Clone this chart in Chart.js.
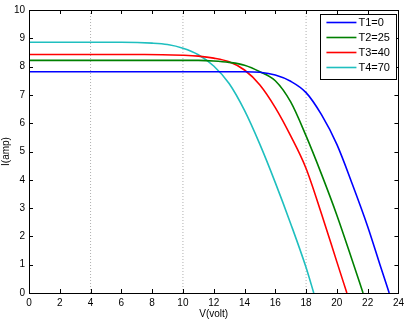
<!DOCTYPE html>
<html>
<head>
<meta charset="utf-8">
<script src="https://cdn.jsdelivr.net/npm/chart.js@4.4.1/dist/chart.umd.min.js"></script>
<style>
  html, body { margin: 0; padding: 0; background: #fff; }
  #wrap { width: 408px; height: 320px; position: relative; }
</style>
</head>
<body>
<div id="wrap"><canvas id="c" width="408" height="320"></canvas></div>
<script>
// ---- data ----
const seriesNames = ['T1=0', 'T2=25', 'T3=40', 'T4=70'];
const seriesColors = ['#0000ff', '#008000', '#ff0000', '#1fbfbf'];

const voltT1 = [0, 14, 15, 16, 17, 18, 19, 20, 21, 22, 22.8, 23.4];
const ampT1  = [7.82, 7.82, 7.8, 7.7, 7.48, 7.08, 6.3, 5.25, 3.85, 2.35, 1.0, 0];

const voltT2 = [0, 11, 12, 13, 14, 15, 16, 17, 18, 19, 20, 21, 21.7];
const ampT2  = [8.22, 8.22, 8.2, 8.15, 8.05, 7.82, 7.5, 6.75, 5.55, 4.2, 2.75, 1.15, 0];

const voltT3 = [0, 7.5, 10, 11, 12, 13, 14, 15, 16, 17, 18, 19, 20, 20.65];
const ampT3  = [8.43, 8.43, 8.4, 8.37, 8.3, 8.17, 7.88, 7.35, 6.55, 5.55, 4.4, 2.8, 1.1, 0];

const voltT4 = [0, 6, 8, 9, 10, 11, 12, 13, 14, 15, 16, 17, 18, 18.5];
const ampT4  = [8.86, 8.86, 8.83, 8.78, 8.65, 8.42, 8.02, 7.4, 6.45, 5.25, 3.9, 2.45, 0.9, 0];

const markerVolts = [4, 10, 18];          // dotted vertical reference lines
const xTicks = [0, 2, 4, 6, 8, 10, 12, 14, 16, 18, 20, 22, 24];
const yTicks = [0, 1, 2, 3, 4, 5, 6, 7, 8, 9, 10];

// ---- build datasets ----
const volts = [voltT1, voltT2, voltT3, voltT4];
const amps = [ampT1, ampT2, ampT3, ampT4];
const datasets = seriesNames.map((name, i) => ({
  label: name,
  data: volts[i].map((v, k) => ({ x: v, y: amps[i][k] })),
  borderColor: seriesColors[i],
  backgroundColor: seriesColors[i],
  borderWidth: 1.6,
  pointRadius: 0,
  showLine: true,
  cubicInterpolationMode: 'monotone',
  fill: false
}));
markerVolts.forEach(v => {
  datasets.push({
    label: '_marker',
    data: [{ x: v, y: yTicks[0] }, { x: v, y: yTicks[yTicks.length - 1] }],
    borderColor: '#9a9a9a',
    borderWidth: 0.8,
    borderDash: [1, 2],
    pointRadius: 0,
    showLine: true,
    fill: false
  });
});

const FAMILY = '"Liberation Sans", Arial, sans-serif';
const FONT = { family: FAMILY, size: 10 };

// frame + inward ticks + boxed legend
const framePlugin = {
  id: 'frame',
  afterDatasetsDraw(chart) {
    const { ctx, chartArea: a, scales: { x, y } } = chart;
    ctx.save();
    ctx.strokeStyle = '#000';
    ctx.lineWidth = 1;
    ctx.strokeRect(Math.round(a.left) + 0.5, Math.round(a.top) + 0.5,
                   Math.round(a.right - a.left), Math.round(a.bottom - a.top));
    const L = 4;
    ctx.beginPath();
    xTicks.forEach(v => {
      const px = Math.round(x.getPixelForValue(v)) + 0.5;
      ctx.moveTo(px, a.bottom); ctx.lineTo(px, a.bottom - L);
      ctx.moveTo(px, a.top); ctx.lineTo(px, a.top + L);
    });
    yTicks.forEach(v => {
      const py = Math.round(y.getPixelForValue(v)) + 0.5;
      ctx.moveTo(a.left, py); ctx.lineTo(a.left + L, py);
      ctx.moveTo(a.right, py); ctx.lineTo(a.right - L, py);
    });
    ctx.stroke();

    // legend box in the upper right corner of the plot
    const boxR = a.right - 2, boxL = boxR - 76, boxT = a.top + 4, rowH = 15;
    const boxB = boxT + 8 + rowH * seriesNames.length - 3;
    ctx.fillStyle = '#fff';
    ctx.fillRect(boxL, boxT, boxR - boxL, boxB - boxT);
    ctx.strokeStyle = '#000';
    ctx.strokeRect(Math.round(boxL) + 0.5, Math.round(boxT) + 0.5,
                   Math.round(boxR - boxL), Math.round(boxB - boxT));
    ctx.font = '11px ' + FAMILY;
    ctx.textBaseline = 'middle';
    ctx.textAlign = 'left';
    seriesNames.forEach((name, i) => {
      const ry = Math.round(boxT + 8 + i * rowH) + 0.5;
      ctx.strokeStyle = seriesColors[i];
      ctx.lineWidth = 1.6;
      ctx.beginPath();
      ctx.moveTo(boxL + 6, ry); ctx.lineTo(boxL + 36, ry);
      ctx.stroke();
      ctx.fillStyle = '#000';
      ctx.fillText(name, boxL + 38, ry);
    });
    ctx.restore();
  }
};

new Chart(document.getElementById('c'), {
  type: 'scatter',
  data: { datasets },
  plugins: [framePlugin],
  options: {
    responsive: false,
    animation: false,
    layout: { padding: { top: 4, right: 4, left: 0, bottom: 0 } },
    plugins: {
      tooltip: { enabled: false },
      legend: { display: false }
    },
    scales: {
      x: {
        type: 'linear',
        min: 0, max: 24,
        afterBuildTicks: s => { s.ticks = xTicks.map(v => ({ value: v })); },
        afterFit: s => { s.height = 27; },
        grid: { display: false, drawTicks: false },
        border: { display: false },
        ticks: { color: '#000', font: FONT, padding: 4, maxRotation: 0 },
        title: { display: true, text: 'V(volt)', color: '#000', font: FONT, padding: { top: 0, bottom: 0 } }
      },
      y: {
        type: 'linear',
        min: 0, max: 10,
        afterBuildTicks: s => { s.ticks = yTicks.map(v => ({ value: v })); },
        afterFit: s => { s.width = 29; },
        grid: { display: false, drawTicks: false },
        border: { display: false },
        ticks: { color: '#000', font: FONT, padding: 4 },
        title: { display: true, text: 'I(amp)', color: '#000', font: FONT, padding: { top: 0, bottom: 0 } }
      }
    }
  }
});
</script>
</body>
</html>
